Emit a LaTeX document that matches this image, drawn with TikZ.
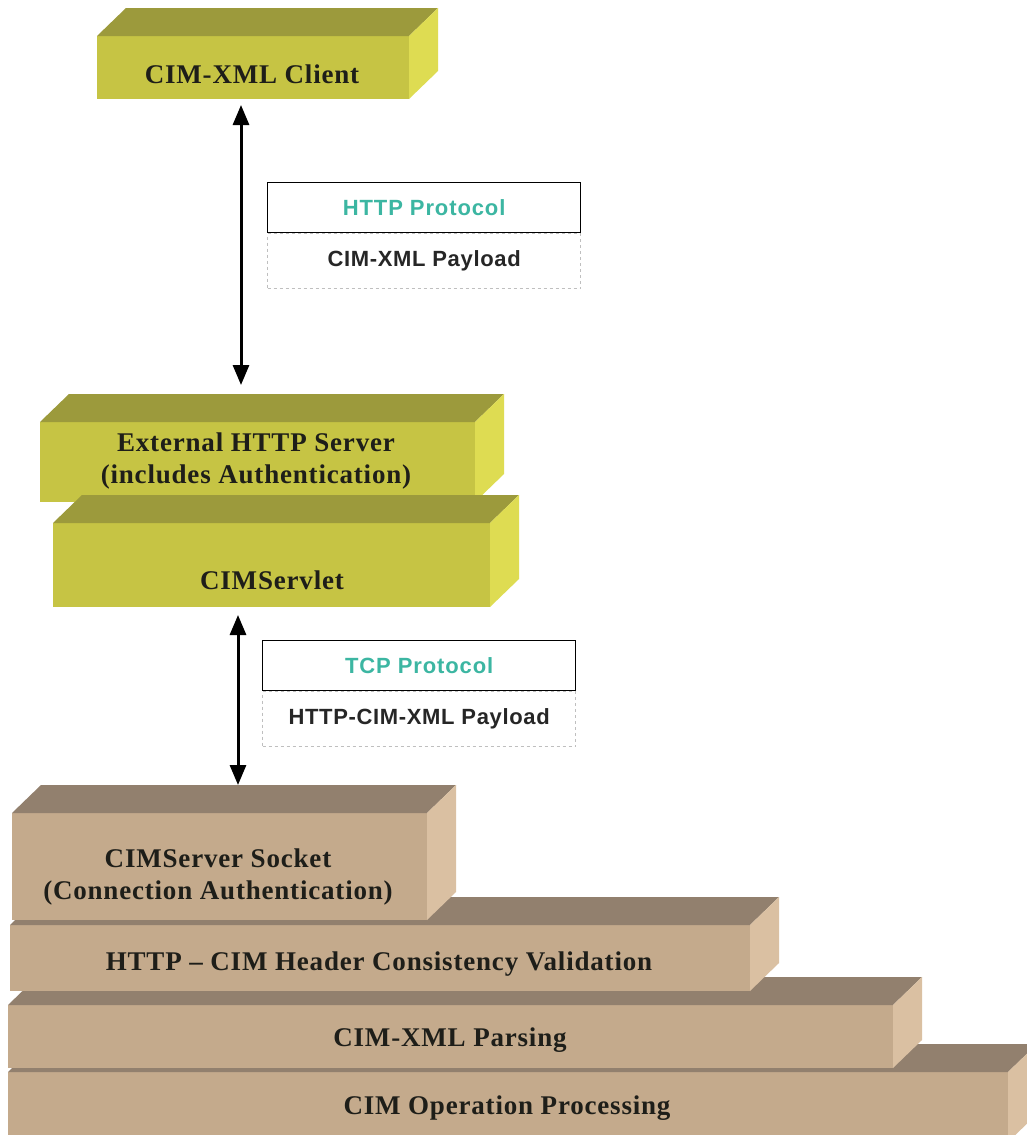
\documentclass[tikz,border=0pt]{standalone}
\usepackage{fontspec}
\setmainfont{Liberation Serif}
\setsansfont{Liberation Sans}
\usetikzlibrary{calc,arrows.meta}
\definecolor{olfront}{RGB}{198,196,68}
\definecolor{oltop}{RGB}{156,154,60}
\definecolor{olside}{RGB}{222,220,82}
\definecolor{tnfront}{RGB}{196,170,140}
\definecolor{tntop}{RGB}{146,128,110}
\definecolor{tnside}{RGB}{218,192,162}
\definecolor{teal}{RGB}{60,182,162}
\definecolor{boxtext}{RGB}{30,30,25}
\tikzset{
  face/.style={inner sep=0pt, outer sep=0pt, anchor=north west},
  arr/.style={line width=3pt, {Triangle[length=20pt,width=16pt]}-{Triangle[length=20pt,width=16pt]}},
  protobox/.style={draw=black, line width=1.3pt, minimum width=313pt, minimum height=50pt, inner sep=0pt, font=\sffamily\bfseries\fontsize{22}{26}\selectfont\addfontfeature{LetterSpace=4}, text=teal},
  paybox/.style={draw=black!25, dashed, line width=0.8pt, minimum width=313pt, minimum height=55pt, inner sep=0pt, font=\sffamily\bfseries\fontsize{22}{26}\selectfont\addfontfeature{LetterSpace=3}, text=black!85},
  lbl/.style={font=\bfseries\fontsize{27}{32}\selectfont\addfontfeature{LetterSpace=3}, text=boxtext, align=center, inner sep=0pt}
}
% \cuboid{name}{x}{y}{w}{h}{front}{top}{side}
\newcommand{\cuboid}[8]{%
  \node[face, fill=#6, minimum width=#4pt, minimum height=#5pt] (#1) at (#2,#3) {};
  \fill[#7] (#1.north west) -- ++(29,-28) -- ($(#1.north east)+(29,-28)$) -- (#1.north east) -- cycle;
  \fill[#8] (#1.north east) -- ++(29,-28) -- ($(#1.south east)+(29,-28)$) -- (#1.south east) -- cycle;
}
\begin{document}
\begin{tikzpicture}[x=1pt,y=-1pt]
\useasboundingbox (0,0) rectangle (1026,1135);
\fill[white] (0,0) rectangle (1026,1135);

% client
\cuboid{client}{97}{36}{312}{63}{olfront}{oltop}{olside}
\node[lbl] (clienttxt) at (252,74) {CIM-XML Client};

% external http server and servlet
\cuboid{ext}{40}{422}{435}{80}{olfront}{oltop}{olside}
\node[lbl] (exttxt) at (256,461) {External HTTP Server\\(includes Authentication)};
\cuboid{servlet}{53}{523}{437}{84}{olfront}{oltop}{olside}
\node[lbl] (servlettxt) at (272,580) {CIMServlet};

% bottom stack
\cuboid{opproc}{8}{1072}{1000}{70}{tnfront}{tntop}{tnside}
\node[lbl] (opproctxt) at (507,1108) {CIM Operation Processing};
\cuboid{parsing}{8}{1005}{885}{63}{tnfront}{tntop}{tnside}
\node[lbl] (parsingtxt) at (450,1040) {CIM-XML Parsing};
\cuboid{header}{10}{925}{740}{66}{tnfront}{tntop}{tnside}
\node[lbl] (headertxt) at (379,964) {HTTP -- CIM Header Consistency Validation};
\cuboid{socket}{12}{813}{415}{107}{tnfront}{tntop}{tnside}
\node[lbl] (sockettxt) at (218,877) {CIMServer Socket\\(Connection Authentication)};

% protocol labels
\node[protobox, anchor=north west] (http) at (267,182) {HTTP Protocol};
\node[paybox, anchor=north] (httppay) at (http.south) {CIM-XML Payload};
\node[protobox, anchor=north west] (tcp) at (262,640) {TCP Protocol};
\node[paybox, anchor=north] (tcppay) at (tcp.south) {HTTP-CIM-XML Payload};

% arrows
\coordinate (a1top) at ($(client.south west)+(144,6)$);
\coordinate (a1bot) at ($(ext.north west)+(201,-37)$);
\draw[arr] (a1top) -- (a1bot);
\coordinate (a2top) at ($(servlet.south west)+(185,8)$);
\coordinate (a2bot) at ($(socket.north west)+(226,-28)$);
\draw[arr] (a2top) -- (a2bot);
\end{tikzpicture}
\end{document}
